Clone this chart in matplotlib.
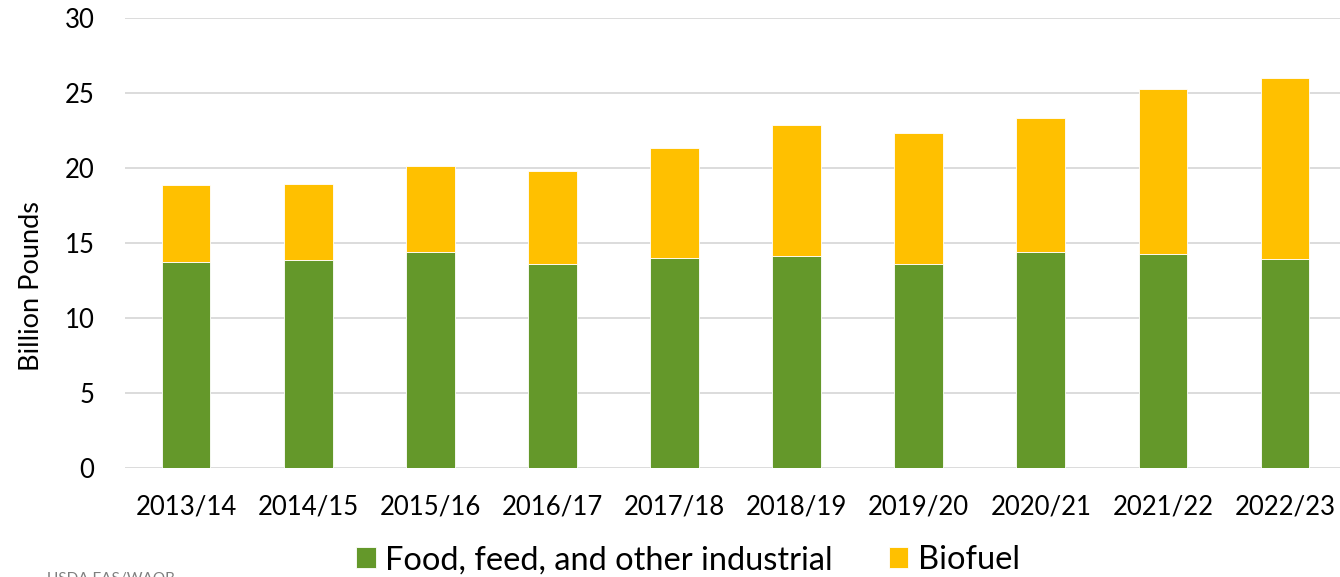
import matplotlib.pyplot as plt
import numpy as np

years = ['2013/14', '2014/15', '2015/16', '2016/17', '2017/18',
         '2018/19', '2019/20', '2020/21', '2021/22', '2022/23']
food_feed = [13.77, 13.91, 14.44, 13.64, 14.00, 14.17, 13.64, 14.44, 14.27, 13.95]
biofuel = [5.12, 5.04, 5.73, 6.20, 7.37, 8.72, 8.69, 8.87, 11.02, 12.05]

GREEN = '#64982A'
YELLOW = '#FFC000'
GRID = '#D9D9D9'

plt.rcParams['font.family'] = ['Lato', 'DejaVu Sans']

fig = plt.figure(figsize=(13.4, 5.77), dpi=100)
ax = fig.add_axes([0.0933, 0.1884, 0.9067, 0.7804])

x = np.arange(len(years))
ax.bar(x, food_feed, width=0.4, color=GREEN, edgecolor='white', linewidth=0.6,
       label='Food, feed, and other industrial', zorder=3)
ax.bar(x, biofuel, width=0.4, bottom=food_feed, color=YELLOW, edgecolor='white',
       linewidth=0.6, label='Biofuel', zorder=3)

ax.set_xlim(-0.5, 9.45)
ax.set_ylim(0, 30)
ax.set_yticks(range(0, 31, 5))
ax.set_xticks(x)
ax.set_xticklabels(years)
ax.tick_params(axis='both', length=0, labelsize=18.5, colors='black')
ax.tick_params(axis='x', pad=19)
ax.tick_params(axis='y', pad=22)

ax.grid(axis='y', color=GRID, linewidth=1.3, zorder=0)
for side in ['top', 'right', 'left', 'bottom']:
    ax.spines[side].set_visible(False)

ax.set_ylabel('Billion Pounds', fontsize=19.5, labelpad=15)
ax.yaxis.label.set_y(0.405)

# legend sits under the tick labels, a little left of centre
handles, labels = ax.get_legend_handles_labels()
fig.legend(handles, labels, loc='center', bbox_to_anchor=(688 / 1340, 0.029),
           ncol=2, frameon=False, fontsize=23.5, handlelength=0.6,
           handleheight=0.6, handletextpad=0.3, columnspacing=1.7,
           borderpad=0, borderaxespad=0)

fig.text(0.035, -0.004, 'USDA FAS/WAOB', fontsize=11, color='#7F7F7F', va='center')

fig.savefig('out.png', dpi=100)
